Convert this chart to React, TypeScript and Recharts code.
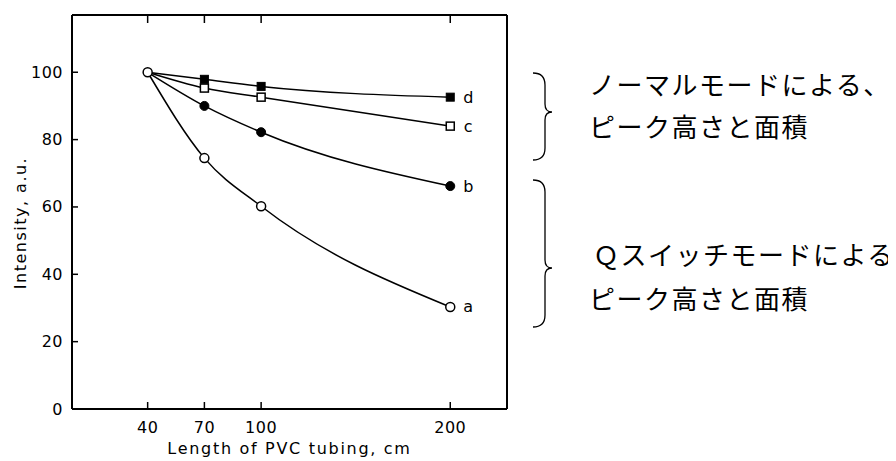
import { Line, LineChart, XAxis, YAxis } from 'recharts'

const lengths = [40, 70, 100, 200]
const seriesA = [100, 74.5, 60.2, 30.3]
const seriesB = [100, 90, 82.2, 66.2]
const seriesC = [100, 95.3, 92.6, 84]
const seriesD = [100, 97.9, 95.8, 92.6]
const xTicks = [40, 70, 100, 200]
const yTicks = [0, 20, 40, 60, 80, 100]
const rightTicks = [20, 40, 60, 80, 100]

const data = lengths.map((len, i) => ({
  len,
  a: seriesA[i],
  b: seriesB[i],
  c: seriesC[i],
  d: seriesD[i],
}))

const FONT = '"DejaVu Sans", sans-serif'
const JP = '"Noto Sans CJK JP", sans-serif'

const LeftTick = (p: any) => {
  const ax = p.x + 9
  return (
    <g>
      <line x1={ax} x2={ax + 6} y1={p.y} y2={p.y} stroke="#000" strokeWidth={1.5} />
      <text x={p.x} y={p.y} textAnchor="end" dominantBaseline="central" fontFamily={FONT} fontSize={16} letterSpacing={0.5} fill="#000">
        {p.payload.value}
      </text>
    </g>
  )
}

const BottomTick = (p: any) => {
  const ay = p.y - 18
  return (
    <g>
      <line x1={p.x} x2={p.x} y1={ay} y2={ay - 7} stroke="#000" strokeWidth={1.5} />
      <text x={p.x} y={p.y} textAnchor="middle" dominantBaseline="central" fontFamily={FONT} fontSize={16} letterSpacing={0.5} fill="#000">
        {p.payload.value}
      </text>
    </g>
  )
}

const RightTick = (p: any) => (
  <line x1={p.x - 1} x2={p.x - 8} y1={p.y} y2={p.y} stroke="#000" strokeWidth={1.5} />
)

const TopTick = (p: any) => (
  <line x1={p.x} x2={p.x} y1={p.y + 1} y2={p.y + 8} stroke="#000" strokeWidth={1.5} />
)

function makeDot(kind: 'openCircle' | 'fillCircle' | 'openSquare' | 'fillSquare', letter: string) {
  return (p: any) => {
    const { cx, cy, index } = p
    const last = index === lengths.length - 1
    let mark = null
    if (kind === 'openCircle') {
      mark = <circle cx={cx} cy={cy} r={4.5} fill="#fff" stroke="#000" strokeWidth={1.5} />
    } else if (index > 0) {
      if (kind === 'fillCircle') mark = <circle cx={cx} cy={cy} r={4.5} fill="#000" stroke="#000" strokeWidth={1} />
      if (kind === 'openSquare') mark = <rect x={cx - 4} y={cy - 4} width={8} height={8} fill="#fff" stroke="#000" strokeWidth={1.5} />
      if (kind === 'fillSquare') mark = <rect x={cx - 4} y={cy - 4} width={8} height={8} fill="#000" stroke="#000" strokeWidth={1} />
    }
    return (
      <g key={`${letter}-${index}`}>
        {mark}
        {last && (
          <text x={cx + 18} y={cy} textAnchor="middle" dominantBaseline="central" fontFamily={FONT} fontSize={16} fill="#000">
            {letter}
          </text>
        )}
      </g>
    )
  }
}

const Brace = ({ x, top, bottom, mid }: { x: number; top: number; bottom: number; mid: number }) => {
  const r = 12
  const tip = x + 19
  const d = `M${x},${top} Q${x + r},${top} ${x + r},${top + r} L${x + r},${mid - 8} Q${x + r},${mid} ${tip},${mid} Q${x + r},${mid} ${x + r},${mid + 8} L${x + r},${bottom - r} Q${x + r},${bottom} ${x},${bottom}`
  return <path d={d} fill="none" stroke="#000" strokeWidth={1.3} />
}

export default function App() {
  return (
    <div style={{ position: 'relative', width: 888, height: 453, background: '#fff' }}>
      <LineChart width={520} height={453} data={data} margin={{ top: 6, right: 20, left: 0, bottom: 0 }}>
        <XAxis
          dataKey="len"
          type="number"
          domain={[0, 230]}
          ticks={xTicks}
          height={52}
          tickSize={0}
          tickMargin={18}
          tickLine={false}
          axisLine={{ stroke: '#000', strokeWidth: 2 }}
          tick={BottomTick}
          label={{
            content: (props: any) => {
              const vb = props.viewBox
              return (
                <text x={vb.x + vb.width / 2} y={vb.y + 39} textAnchor="middle" dominantBaseline="central" fontFamily={FONT} fontSize={16} letterSpacing={1.7} fill="#000">
                  Length of PVC tubing, cm
                </text>
              )
            },
          }}
        />
        <XAxis
          xAxisId="t"
          orientation="top"
          dataKey="len"
          type="number"
          domain={[0, 230]}
          ticks={xTicks}
          height={1}
          tickSize={0}
          tickMargin={0}
          tickLine={false}
          axisLine={{ stroke: '#000', strokeWidth: 2 }}
          tick={TopTick}
        />
        <YAxis
          type="number"
          domain={[0, 117]}
          ticks={yTicks}
          width={64}
          tickSize={0}
          tickMargin={9}
          tickLine={false}
          axisLine={{ stroke: '#000', strokeWidth: 2 }}
          tick={LeftTick}
          label={{
            content: (props: any) => {
              const vb = props.viewBox
              const cx = vb.x + 12
              const cy = vb.y + vb.height / 2 + 11
              return (
                <text x={cx} y={cy} transform={`rotate(-90 ${cx} ${cy})`} textAnchor="middle" dominantBaseline="central" fontFamily={FONT} fontSize={16} letterSpacing={1.5} fill="#000">
                  Intensity, a.u.
                </text>
              )
            },
          }}
        />
        <YAxis
          yAxisId="r"
          orientation="right"
          type="number"
          domain={[0, 117]}
          ticks={rightTicks}
          width={1}
          tickSize={0}
          tickMargin={0}
          tickLine={false}
          axisLine={{ stroke: '#000', strokeWidth: 2 }}
          tick={RightTick}
        />
        <Line type="monotone" dataKey="d" stroke="#000" strokeWidth={1.5} dot={makeDot('fillSquare', 'd')} isAnimationActive={false} />
        <Line type="monotone" dataKey="c" stroke="#000" strokeWidth={1.5} dot={makeDot('openSquare', 'c')} isAnimationActive={false} />
        <Line type="monotone" dataKey="b" stroke="#000" strokeWidth={1.5} dot={makeDot('fillCircle', 'b')} isAnimationActive={false} />
        <Line type="monotone" dataKey="a" stroke="#000" strokeWidth={1.5} dot={makeDot('openCircle', 'a')} isAnimationActive={false} />
      </LineChart>
      <svg width={888} height={453} style={{ position: 'absolute', left: 0, top: 0, pointerEvents: 'none' }}>
        <Brace x={525} top={65} bottom={152} mid={104} />
        <Brace x={525} top={172} bottom={319} mid={260} />
        <g fontFamily={JP} fontSize={26} letterSpacing={1.5} fill="#000">
          <text x={581} y={75} dominantBaseline="central">ノーマルモードによる、</text>
          <text x={581} y={117} dominantBaseline="central">ピーク高さと面積</text>
          <text x={585} y={245} dominantBaseline="central">Ｑスイッチモードによる</text>
          <text x={581} y={289} dominantBaseline="central">ピーク高さと面積</text>
        </g>
      </svg>
    </div>
  )
}
